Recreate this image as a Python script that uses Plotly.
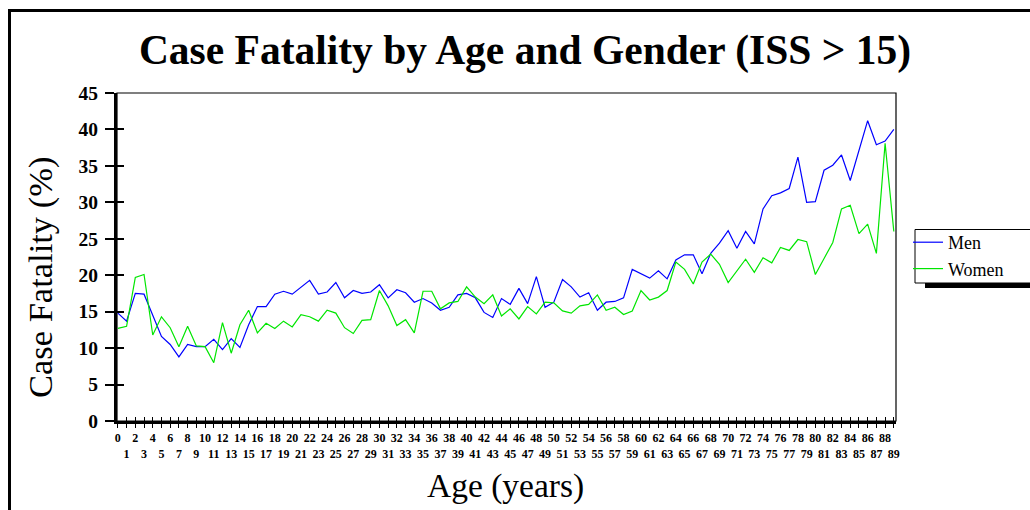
import plotly.graph_objects as go

ages = list(range(0, 90))
men = [14.8, 13.7, 17.5, 17.4, 14.5, 11.6, 10.5, 8.8, 10.5, 10.2,
       10.2, 11.2, 9.8, 11.3, 10.1, 13.2, 15.7, 15.7, 17.4, 17.8,
       17.4, 18.4, 19.3, 17.4, 17.7, 19.0, 16.9, 17.9, 17.5, 17.7,
       18.7, 16.9, 18.0, 17.6, 16.3, 16.8, 16.2, 15.2, 15.6, 17.3,
       17.5, 16.9, 14.9, 14.2, 16.8, 16.0, 18.2, 16.1, 19.8, 15.6,
       16.3, 19.4, 18.4, 17.0, 17.6, 15.2, 16.3, 16.4, 16.9, 20.8,
       20.2, 19.6, 20.6, 19.5, 22.1, 22.8, 22.8, 20.2, 23.0, 24.4,
       26.1, 23.7, 26.0, 24.3, 29.1, 30.9, 31.3, 31.9, 36.2, 30.0,
       30.1, 34.4, 35.1, 36.5, 33.0, 37.2, 41.2, 37.9, 38.4, 40.0]
women = [12.7, 13.0, 19.7, 20.1, 11.8, 14.3, 12.8, 10.2, 13.0, 10.3,
         10.2, 8.0, 13.5, 9.3, 13.2, 15.2, 12.1, 13.4, 12.7, 13.7,
         12.9, 14.6, 14.3, 13.7, 15.2, 14.8, 12.8, 12.0, 13.8, 13.9,
         17.9, 15.8, 13.1, 13.9, 12.1, 17.8, 17.8, 15.4, 16.2, 16.4,
         18.4, 17.0, 16.1, 17.3, 14.4, 15.4, 14.0, 15.7, 14.7, 16.3,
         16.2, 15.1, 14.8, 15.8, 16.0, 17.3, 15.2, 15.6, 14.6, 15.1,
         17.9, 16.6, 17.0, 17.9, 21.8, 20.8, 18.8, 21.8, 22.9, 21.5,
         19.0, 20.6, 22.2, 20.4, 22.4, 21.7, 23.8, 23.4, 24.9, 24.6,
         20.1, 22.3, 24.5, 29.1, 29.6, 25.7, 27.0, 23.0, 38.1, 26.0]
y_ticks = [0, 5, 10, 15, 20, 25, 30, 35, 40, 45]
x_ticktext = [str(a) if a % 2 == 0 else "<br>" + str(a) for a in ages]

SERIF = "Liberation Serif, Times New Roman, serif"

W, H = 1030, 510
L, R, T, B = 117, 896, 93, 421

def px(x):  # screen x -> paper
    return (x - L) / (R - L)

def py(y):  # screen y -> paper
    return (B - y) / (B - T)

fig = go.Figure()
fig.add_trace(go.Scatter(x=ages, y=men, mode="lines", name="Men",
                         line=dict(color="#0000ff", width=1.2)))
fig.add_trace(go.Scatter(x=ages, y=women, mode="lines", name="Women",
                         line=dict(color="#00e600", width=1.2)))
# empty helper trace for overlay axes (inside tick marks)
fig.add_trace(go.Scatter(x=[], y=[], xaxis="x2", yaxis="y2",
                         showlegend=False, hoverinfo="skip"))

xrange = [-0.1, 89.25]
fig.update_layout(
    width=W, height=H,
    margin=dict(l=L, r=W - R, t=T, b=H - B, pad=0),
    paper_bgcolor="white", plot_bgcolor="white",
    font=dict(family=SERIF, color="black"),
    title=dict(text="<b>Case Fatality by Age and Gender (ISS &gt; 15)</b>",
               x=525 / W, xref="container", xanchor="center",
               y=1 - 49 / H, yref="container", yanchor="middle",
               font=dict(family=SERIF, size=41.5, color="black")),
    xaxis=dict(range=xrange, tickmode="array", tickvals=ages, ticktext=x_ticktext,
               ticks="outside", ticklen=4, tickwidth=1, tickcolor="black",
               showline=True, linewidth=3, linecolor="black", showgrid=False,
               zeroline=False, tickangle=0,
               tickfont=dict(family=SERIF, size=12, color="black", weight="bold")),
    yaxis=dict(range=[0, 45], tickmode="array", tickvals=y_ticks,
               ticks="outside", ticklen=9, tickwidth=1.5, tickcolor="black",
               showline=True, linewidth=3, linecolor="black", showgrid=False,
               zeroline=False, ticklabelstandoff=3,
               tickfont=dict(family=SERIF, size=19.5, color="black", weight="bold")),
    xaxis2=dict(range=xrange, overlaying="x", anchor="y2", side="bottom",
                tickmode="array", tickvals=ages, ticks="inside", ticklen=4,
                tickwidth=1, tickcolor="black", showticklabels=False,
                showline=False, showgrid=False, zeroline=False),
    yaxis2=dict(range=[0, 45], overlaying="y", anchor="x2", side="left",
                tickmode="array", tickvals=y_ticks, ticks="inside", ticklen=7,
                tickwidth=1.5, tickcolor="black", showticklabels=False,
                showline=False, showgrid=False, zeroline=False),
    showlegend=True,
    legend=dict(x=px(908), xanchor="left", y=py(224), yanchor="top",
                bgcolor="rgba(0,0,0,0)", borderwidth=0,
                font=dict(family=SERIF, size=18, color="black"),
                tracegroupgap=0),
    annotations=[
        dict(text="Age (years)", x=px(505), y=py(486), xref="paper", yref="paper",
             showarrow=False, font=dict(family=SERIF, size=33.5, color="black"),
             xanchor="center", yanchor="middle"),
        dict(text="Case Fatality (%)", x=px(40), y=py(278), xref="paper", yref="paper",
             textangle=-90, showarrow=False,
             font=dict(family=SERIF, size=34.5, color="black"),
             xanchor="center", yanchor="middle"),
    ],
    shapes=[
        # plot area frame (thin top/right)
        dict(type="rect", xref="paper", yref="paper", x0=0, y0=0, x1=1, y1=1,
             line=dict(color="black", width=1.2), layer="below"),
        # outer figure frame (top and left)
        dict(type="line", xref="paper", yref="paper", x0=px(8), x1=px(1035),
             y0=py(10.5), y1=py(10.5), line=dict(color="black", width=3)),
        dict(type="line", xref="paper", yref="paper", x0=px(9.5), x1=px(9.5),
             y0=py(9), y1=py(515), line=dict(color="black", width=3)),
        # legend shadow and box
        dict(type="rect", xref="paper", yref="paper", x0=px(925), x1=px(1040),
             y0=py(288), y1=py(282), fillcolor="black", line=dict(width=0)),
        dict(type="rect", xref="paper", yref="paper", x0=px(915), x1=px(1040),
             y0=py(283), y1=py(229.5), fillcolor="white",
             line=dict(color="black", width=1)),
    ],
)

fig.write_html(
    "out.html",
    config={"displayModeBar": False},
    post_script="document.body.style.margin='0px';document.body.style.overflow='hidden';",
)
